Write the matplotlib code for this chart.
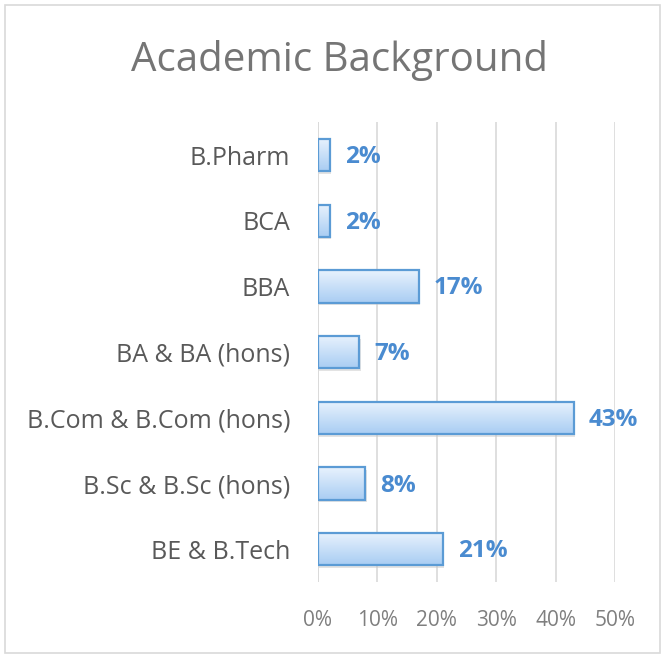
import numpy as np
import matplotlib.pyplot as plt
from matplotlib.patches import Rectangle
from matplotlib.colors import LinearSegmentedColormap

categories = ['BE & B.Tech', 'B.Sc & B.Sc (hons)', 'B.Com & B.Com (hons)',
              'BA & BA (hons)', 'BBA', 'BCA', 'B.Pharm']
shares = [0.21, 0.08, 0.43, 0.07, 0.17, 0.02, 0.02]
xticks = [0, 0.1, 0.2, 0.3, 0.4, 0.5]

plt.rcParams['font.family'] = ['Open Sans', 'DejaVu Sans']

fig = plt.figure(figsize=(6.65, 6.57), dpi=100)
ax = fig.add_axes([0.478, 0.114, 0.447, 0.70])

# outer chart border
fig.patches.append(Rectangle((0.008, 0.006), 0.984, 0.986, transform=fig.transFigure,
                             fill=False, edgecolor='#d9d9d9', linewidth=1.2))

grad = LinearSegmentedColormap.from_list('g', ['#e8f2fd', '#a9cdf3'])
y = np.arange(len(categories))
h = 0.49
bars = ax.barh(y, shares, height=h, facecolor='none', edgecolor='#5b9bd5',
               linewidth=1.6, zorder=3)
img = np.linspace(0, 1, 50).reshape(-1, 1)
for i, b in enumerate(bars):
    x0, y0 = b.get_x(), b.get_y()
    w, hh = b.get_width(), b.get_height()
    # soft shadow
    ax.add_patch(Rectangle((x0 + 0.002, y0 - 0.04), w, hh, facecolor='#c8c8c8',
                           edgecolor='none', alpha=0.5, zorder=2))
    im = ax.imshow(img, cmap=grad, aspect='auto', extent=(x0, x0 + w, y0, y0 + hh),
                   origin='upper', zorder=2.5)
    im.set_clip_path(b)
    ax.text(x0 + w + 0.025, y[i] - 0.03, f'{round(w * 100)}%',
            va='center', ha='left', fontsize=17.5, fontweight='bold', color='#4a8bd0')

ax.set_xlim(0, 0.5)
ax.set_ylim(-0.5, len(categories) - 0.5)
ax.set_xticks(xticks)
ax.set_xticklabels([f'{int(t * 100)}%' for t in xticks])
ax.set_yticks(y)
ax.set_yticklabels(categories)
ax.tick_params(axis='both', length=0, labelcolor='#595959')
ax.tick_params(axis='x', pad=20, labelcolor='#7f7f7f', labelsize=15)
ax.tick_params(axis='y', pad=20, labelsize=18)
ax.grid(axis='x', color='#d9d9d9', linewidth=1.2, zorder=0)
for s in ax.spines.values():
    s.set_visible(False)
ax.axvline(0, color='#d9d9d9', linewidth=1.2, zorder=1)

fig.text(0.51, 0.908, 'Academic Background', ha='center', va='center',
         fontsize=29, color='#757575')

fig.savefig('out.png', dpi=100)
